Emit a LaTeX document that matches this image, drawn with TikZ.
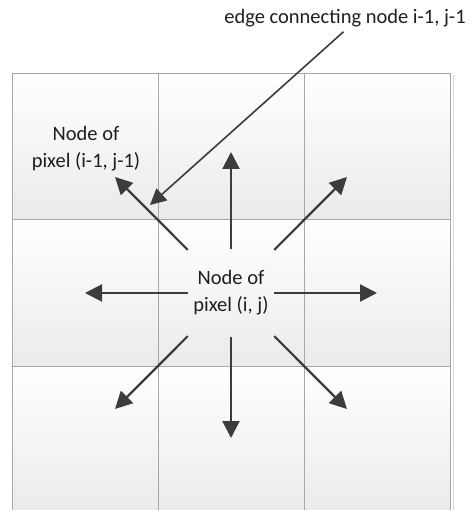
\documentclass[tikz,border=0pt]{standalone}
\usepackage{fontspec}
\setmainfont{Carlito}
\usetikzlibrary{arrows.meta}
\definecolor{arrowgray}{HTML}{3C3C3C}
\definecolor{gridgray}{HTML}{A8A8A8}
\tikzset{
  cell/.style={top color=white, bottom color=black!8, draw=gridgray, line width=0.9pt},
  edgearrow/.style={arrowgray, line width=2.2pt, -{Triangle[length=17pt,width=17pt]}},
  notearrow/.style={arrowgray, line width=1.6pt, -{Triangle[length=16pt,width=16pt]}},
  pixeltext/.style={font=\fontsize{20.5}{27}\selectfont, align=center, text=black!88},
}
\begin{document}
\begin{tikzpicture}[x=1pt,y=-1pt]
  \useasboundingbox (0,0) rectangle (470,510);
  \begin{scope}
    \clip (0,0) rectangle (470,510);
    \draw[black!15, line width=1.5pt] (453.5,75) -- (453.5,512);
    \foreach \x in {0,1,2}
      \foreach \y in {0,1,2}
        \draw[cell] (12+146.3*\x, 73+146.5*\y) rectangle +(146.3,146.5);
  \end{scope}
  % centre pixel and its eight edges
  \node[pixeltext, minimum width=86pt, minimum height=87pt, inner sep=0pt] (c) at (231,293) {Node of\\pixel (i, j)};
  \foreach \name/\dx/\dy in {up/0/-141, down/0/145, left/-146/0, right/146/0,
                            ul/-116/-116, ur/116/-116, dl/-116/116, dr/116/116} {
    \coordinate (\name) at (231+\dx, 293+\dy);
    \draw[edgearrow] (c) -- (\name);
  }
  \node[pixeltext] (nb) at (86,149) {Node of\\pixel (i-1, j-1)};
  % annotation
  \node[pixeltext] (ann) at (345,18) {edge connecting node i-1, j-1};
  \coordinate (hit) at (150,205);
  \draw[notearrow, shorten <=2pt] (ann.south) -- (hit);
\end{tikzpicture}
\end{document}
